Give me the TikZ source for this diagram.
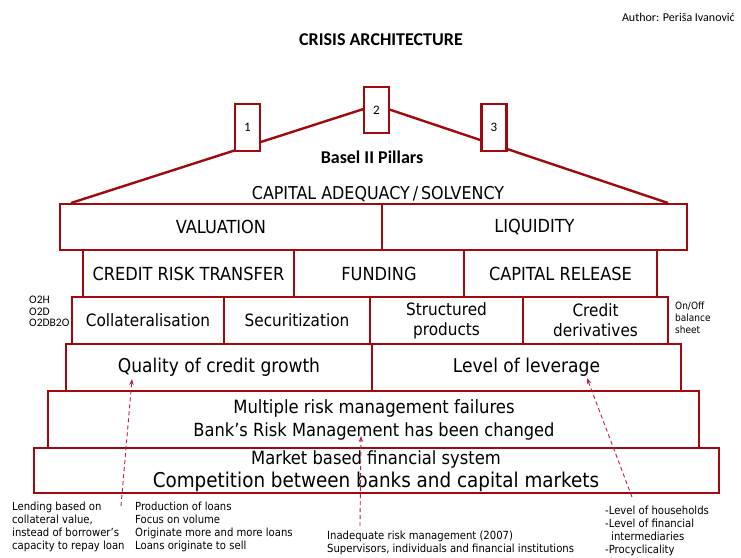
\documentclass[tikz,border=0pt]{standalone}
\usepackage{fontspec}
\setmainfont{DejaVu Sans Condensed}
\newfontfamily\calfont{Carlito}
\usetikzlibrary{arrows.meta}
\definecolor{boxred}{RGB}{160,10,15}
\definecolor{arrred}{RGB}{185,30,70}
\begin{document}
\begin{tikzpicture}[x=1pt,y=-1pt,
  box/.style={draw=boxred, line width=2.4pt, fill=white, inner sep=0pt, outer sep=0pt,
    font=\fontsize{18}{21}\selectfont, align=center},
  midbox/.style={box, font=\fontsize{17}{20}\selectfont},
  pillar/.style={box, minimum width=25, minimum height=47, font=\calfont\fontsize{13}{15}\selectfont},
  note/.style={font=\fontsize{11.2}{12.8}\selectfont, align=left, anchor=north west, inner sep=0pt},
  side/.style={font=\calfont\fontsize{11.5}{11.5}\selectfont, align=left, anchor=north west, inner sep=0pt},
  title/.style={font=\calfont\bfseries\fontsize{18}{20}\selectfont, inner sep=0pt},
  dasharrow/.style={draw=arrred, line width=0.9pt, dash pattern=on 4pt off 3pt,
    -{Stealth[length=6pt,width=4.5pt]}}]
\useasboundingbox (0,0) rectangle (741,557);
\fill[white] (0,0) rectangle (741,557);

% header
\node[font=\calfont\fontsize{12}{14}\selectfont, anchor=east, inner sep=0pt] (author) at (735,17) {Author: Periša Ivanović};
\node[title] (title) at (381,40) {CRISIS ARCHITECTURE};

% roof
\coordinate (roofL) at (71,203);
\coordinate (roofT) at (376,105);
\coordinate (roofR) at (668,203);
\draw[boxred, line width=2.4pt] (roofL) -- (roofT) -- (roofR);
\node[pillar] (p1) at (247.5,127.5) {1};
\node[pillar, minimum height=46] (p2) at (376.5,110) {2};
\node[pillar] (p3) at (494,127.5) {3};
\node[title] (basel) at (372,157) {Basel II Pillars};
\node[inner sep=0pt, font=\fontsize{17.7}{21}\selectfont] (cap) at (378,194) {CAPITAL ADEQUACY\,/\,SOLVENCY};

% row 6
\node[box, minimum width=685, minimum height=45] (mb) at (376.5,470.5) {};
\node[inner sep=0pt, font=\fontsize{18.2}{21}\selectfont] (mbt1) at (376,459) {Market based financial system};
\node[inner sep=0pt, font=\fontsize{20.4}{24}\selectfont] (mbt2) at (376,482) {Competition between banks and capital markets};
% row 5
\node[box, minimum width=651, minimum height=57] (mrm) at (373.5,419.5) {};
\node[inner sep=0pt, font=\fontsize{18.3}{21}\selectfont] (mrmt1) at (374,408) {Multiple risk management failures};
\node[inner sep=0pt, font=\fontsize{18.1}{21}\selectfont] (mrmt2) at (374,431) {Bank’s Risk Management has been changed};
% row 4
\node[box, font=\fontsize{19}{22}\selectfont, minimum width=306, minimum height=47] (qual) at (219,367.5) {Quality of credit growth};
\node[box, font=\fontsize{19}{22}\selectfont, minimum width=309, minimum height=47] (lev) at (526.5,367.5) {Level of leverage};
% row 3
\node[midbox, minimum width=152, minimum height=47] (coll) at (148,320.5) {Collateralisation};
\node[midbox, minimum width=146, minimum height=47] (sec) at (297,320.5) {Securitization};
\node[midbox, minimum width=153, minimum height=47] (sp) at (446.5,320.5) {Structured\\products};
\node[midbox, minimum width=145, minimum height=47] (cd) at (595.5,320.5) {Credit\\derivatives};
% row 2
\node[box, minimum width=211, minimum height=47] (crt) at (188.5,273.5) {CREDIT RISK TRANSFER};
\node[box, minimum width=170, minimum height=47] (fund) at (379,273.5) {FUNDING};
\node[box, minimum width=193, minimum height=47] (crel) at (560.5,273.5) {CAPITAL RELEASE};
% row 1
\node[box, minimum width=322, minimum height=46] (val) at (221,227) {VALUATION};
\node[box, minimum width=305, minimum height=46] (liq) at (534.5,227) {LIQUIDITY};

% side labels
\node[side] (o2) at (29,296) {O2H\\O2D\\O2DB2O};
\node[note, font=\fontsize{10}{11.6}\selectfont] (onoff) at (675,302) {On/Off\\balance\\sheet};

% bottom notes
\node[note] (n1) at (12,502) {Lending based on\\collateral value,\\instead of borrower’s\\capacity to repay loan};
\node[note] (n2) at (135,502) {Production of loans\\Focus on volume\\Originate more and more loans\\Loans originate to sell};
\node[note] (n3) at (327,531) {Inadequate risk management (2007)\\Supervisors, individuals and financial institutions};
\node[note] (n4) at (605,506) {-Level of households\\-Level of financial\\\hspace*{6pt}intermediaries\\-Procyclicality};

% arrows
\coordinate (a1s) at (121,506);
\coordinate (a1e) at (132,379);
\coordinate (a2s) at (360,526);
\coordinate (a2e) at (361,436);
\coordinate (a3s) at (632,497);
\coordinate (a3e) at (587,378);
\draw[dasharrow] (a1s) -- (a1e);
\draw[dasharrow] (a2s) -- (a2e);
\draw[dasharrow] (a3s) -- (a3e);
\end{tikzpicture}
\end{document}
